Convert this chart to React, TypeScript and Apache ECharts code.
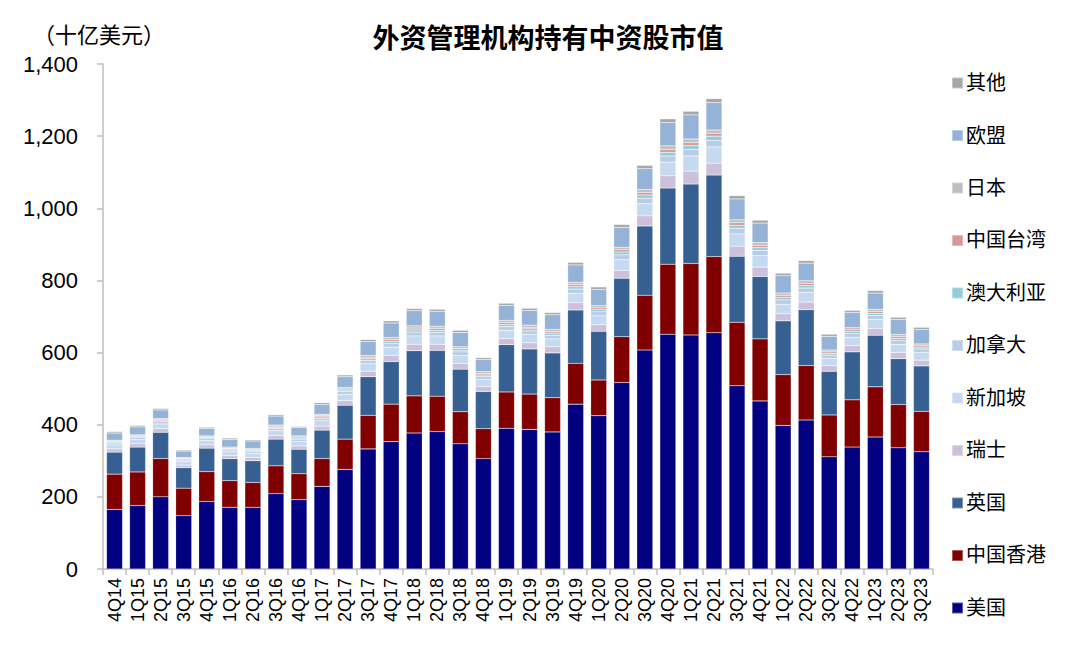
import React, { useEffect, useRef } from "react";
import * as echarts from "echarts";

const categories = [
  "4Q14", "1Q15", "2Q15", "3Q15", "4Q15", "1Q16", "2Q16", "3Q16", "4Q16",
  "1Q17", "2Q17", "3Q17", "4Q17", "1Q18", "2Q18", "3Q18", "4Q18",
  "1Q19", "2Q19", "3Q19", "4Q19", "1Q20", "2Q20", "3Q20", "4Q20",
  "1Q21", "2Q21", "3Q21", "4Q21", "1Q22", "2Q22", "3Q22", "4Q22",
  "1Q23", "2Q23", "3Q23",
];

const us = [165, 176, 200, 148, 187, 171, 171, 209, 192, 229, 276, 333, 353, 377, 381, 347, 306, 390, 387, 380, 457, 425, 517, 607, 651, 649, 655, 508, 466, 398, 413, 311, 338, 366, 336, 325];
const hk = [98, 93, 106, 76, 83, 74, 69, 77, 72, 77, 84, 93, 104, 103, 98, 89, 83, 101, 98, 95, 113, 99, 127, 152, 194, 198, 211, 176, 172, 141, 151, 116, 131, 139, 120, 112];
const uk = [61, 69, 73, 57, 65, 61, 60, 74, 68, 79, 94, 107, 118, 125, 127, 118, 103, 131, 125, 124, 148, 135, 162, 192, 211, 220, 226, 183, 173, 149, 155, 121, 133, 143, 127, 126];
const swiss = [9, 9, 10, 7, 9, 8, 9, 10, 9, 11, 13, 15, 17, 18, 17, 16, 14, 17, 17, 17, 20, 18, 22, 28, 34, 36, 33, 28, 26, 20, 21, 16, 17, 19, 17, 16];
const singapore = [11, 12, 13, 10, 12, 11, 12, 14, 13, 15, 17, 21, 23, 23, 23, 22, 19, 23, 23, 22, 26, 25, 30, 34, 38, 42, 45, 34, 32, 26, 27, 20, 23, 25, 23, 21];
const canada = [5, 5, 6, 4, 5, 5, 5, 6, 6, 7, 8, 9, 10, 11, 10, 10, 8, 10, 10, 10, 12, 11, 13, 15, 17, 18, 18, 15, 14, 12, 12, 9, 10, 11, 10, 10];
const australia = [3, 3, 3, 3, 3, 3, 3, 3, 3, 4, 4, 5, 6, 6, 6, 5, 5, 6, 6, 6, 7, 6, 8, 9, 10, 11, 12, 9, 8, 7, 7, 5, 6, 6, 6, 5];
const taiwan = [2, 2, 3, 2, 2, 2, 2, 3, 3, 3, 3, 4, 5, 5, 5, 4, 4, 5, 4, 4, 5, 5, 6, 7, 8, 8, 8, 7, 6, 5, 6, 4, 5, 5, 5, 4];
const japan = [3, 3, 3, 2, 3, 3, 3, 3, 3, 4, 4, 5, 6, 6, 6, 5, 5, 6, 6, 6, 7, 6, 7, 8, 10, 10, 9, 8, 8, 7, 7, 5, 6, 6, 6, 5];
const eu = [20, 22, 24, 18, 21, 21, 21, 25, 23, 27, 30, 38, 40, 42, 41, 40, 34, 42, 41, 41, 48, 45, 55, 58, 65, 67, 76, 58, 54, 48, 49, 38, 42, 45, 42, 40];
const other = [4, 4, 4, 3, 3, 4, 3, 4, 3, 5, 5, 6, 6, 6, 6, 6, 5, 6, 6, 6, 7, 7, 8, 9, 10, 10, 11, 9, 8, 7, 7, 6, 6, 7, 6, 6];

const seriesNames = ["美国", "中国香港", "英国", "瑞士", "新加坡", "加拿大", "澳大利亚", "中国台湾", "日本", "欧盟", "其他"];
const seriesData = [us, hk, uk, swiss, singapore, canada, australia, taiwan, japan, eu, other];
const seriesColors = ["#000080", "#800000", "#366092", "#ccc0da", "#c5d9f1", "#b8cce4", "#92cddc", "#da9694", "#bfbfbf", "#95b3d7", "#a6a6a6"];
const legendOrder = ["其他", "欧盟", "日本", "中国台湾", "澳大利亚", "加拿大", "新加坡", "瑞士", "英国", "中国香港", "美国"];
const yTicks = [0, 200, 400, 600, 800, 1000, 1200, 1400];

const FONT = "Arial, 'Liberation Sans', 'Noto Sans CJK SC', sans-serif";

export default function App() {
  const ref = useRef<HTMLDivElement>(null);
  useEffect(() => {
    document.body.style.margin = "0";
    if (!ref.current) return;
    const chart = echarts.init(ref.current, null, { renderer: "svg" });
    chart.setOption({
      animation: false,
      backgroundColor: "#ffffff",
      title: [
        {
          text: "外资管理机构持有中资股市值",
          left: 543,
          top: 20,
          textAlign: "center",
          textStyle: { fontFamily: FONT, fontSize: 27, fontWeight: "bold", color: "#000" },
        },
        {
          text: "（十亿美元）",
          left: 28,
          top: 19,
          textStyle: { fontFamily: FONT, fontSize: 22, fontWeight: "normal", color: "#000" },
        },
      ],
      legend: {
        orient: "vertical",
        left: 946,
        top: 68,
        height: 590,
        itemWidth: 11,
        itemHeight: 11,
        itemGap: 32.5,
        icon: "rect",
        data: legendOrder,
        textStyle: { fontFamily: FONT, fontSize: 20, color: "#000", padding: [0, 0, 0, -2] },
      },
      grid: { left: 103, right: 147, top: 64, bottom: 100 },
      xAxis: {
        type: "category",
        data: categories,
        axisLine: { lineStyle: { color: "#bfbfbf", width: 1.5 } },
        axisTick: { show: true, alignWithLabel: false, length: 6, lineStyle: { color: "#bfbfbf", width: 1.5 } },
        axisLabel: { rotate: 90, interval: 0, fontFamily: FONT, fontSize: 18, color: "#000", margin: 9 },
      },
      yAxis: {
        type: "value",
        min: yTicks[0],
        max: yTicks[yTicks.length - 1],
        interval: 200,
        axisLine: { show: true, lineStyle: { color: "#bfbfbf", width: 1.5 } },
        axisTick: { show: true, length: 6, lineStyle: { color: "#bfbfbf", width: 1.5 } },
        splitLine: { show: false },
        axisLabel: {
          fontFamily: FONT,
          fontSize: 22,
          color: "#000",
          margin: 25,
          formatter: (v: number) => v.toLocaleString("en-US"),
        },
      },
      series: seriesNames.map((name, i) => ({
        name,
        type: "bar",
        stack: "total",
        data: seriesData[i],
        barWidth: 16,
        itemStyle: { color: seriesColors[i], borderColor: "rgba(255,255,255,0.35)", borderWidth: 0.5 },
      })),
    });
    return () => chart.dispose();
  }, []);
  return <div ref={ref} style={{ position: "absolute", left: 0, top: 0, width: 1080, height: 669 }} />;
}
